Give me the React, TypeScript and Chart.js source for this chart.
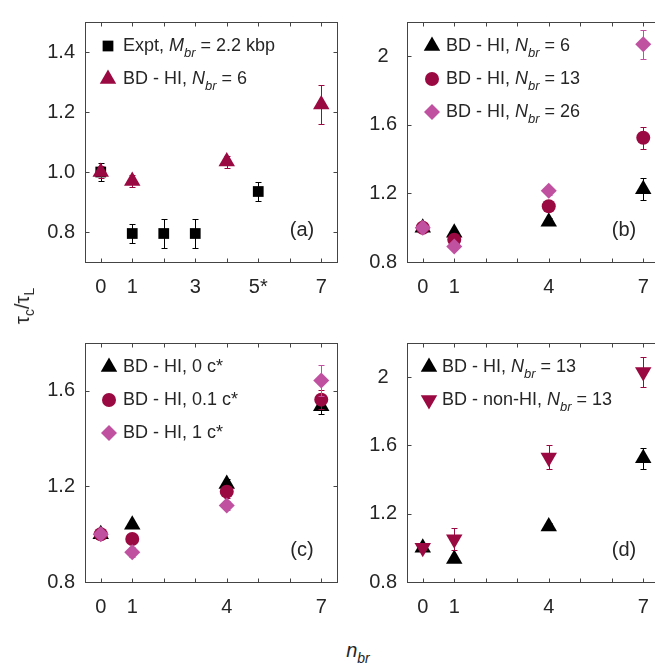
import React, { useEffect, useRef } from 'react';
import { Chart, registerables } from 'chart.js';
import { drawPoint } from 'chart.js/helpers';

Chart.register(...registerables);

const FONT = "'Liberation Sans', Arial, Helvetica, sans-serif";
const TEXT = '#262626';
const AXIS = '#444444';
const BLACK = '#000000';
const MAROON = '#9a0941';
const PINK = '#c051a0';

// ---------- data ----------
const X_EXPT = [0, 1, 2, 3, 5];
const X_SIM = [0, 1, 4, 7];

// panel (a)
const A_EXPT = [1.0, 0.795, 0.795, 0.795, 0.935];
const A_EXPT_ERR = [0.03, 0.03, 0.047, 0.047, 0.032];
const A_HI6 = [1.0, 0.97, 1.035, 1.225];
const A_HI6_ERR = [0.02, 0.02, 0.02, 0.066];

// panel (b)
const B_HI6 = [1.0, 0.97, 1.035, 1.225];
const B_HI6_ERR = [0.01, 0.015, 0.02, 0.066];
const B_HI13 = [1.0, 0.93, 1.125, 1.525];
const B_HI13_ERR = [0.01, 0.015, 0.02, 0.065];
const B_HI26 = [1.0, 0.89, 1.215, 2.07];
const B_HI26_ERR = [0.01, 0.02, 0.025, 0.086];

// panel (c)
const C_0 = [1.0, 1.04, 1.21, 1.535];
const C_0_ERR = [0.01, 0.01, 0.02, 0.03];
const C_01 = [1.0, 0.98, 1.178, 1.563];
const C_01_ERR = [0.01, 0.02, 0.025, 0.04];
const C_1 = [1.0, 0.925, 1.12, 1.643];
const C_1_ERR = [0.01, 0.02, 0.02, 0.066];

// panel (d)
const D_HI13 = [1.0, 0.935, 1.125, 1.525];
const D_HI13_ERR = [0.01, 0.02, 0.02, 0.062];
const D_NOHI13 = [1.0, 1.05, 1.53, 2.03];
const D_NOHI13_ERR = [0.01, 0.065, 0.07, 0.09];

// ticks
const X_TICKS = [0, 1, 2, 3, 4, 5, 6, 7];
const X_LABELS_A = ['0', '1', '', '3', '', '5*', '', '7'];
const X_LABELS = ['0', '1', '', '', '4', '', '', '7'];
const Y_TICKS_A = [0.8, 1.0, 1.2, 1.4];
const Y_LABELS_A = ['0.8', '1.0', '1.2', '1.4'];
const Y_TICKS_BD = [0.8, 1.2, 1.6, 2.0];
const Y_LABELS_BD = ['0.8', '1.2', '1.6', '2'];
const Y_TICKS_C = [0.8, 1.2, 1.6];
const Y_LABELS_C = ['0.8', '1.2', '1.6'];

// ---------- layout ----------
const PAD_L = 60;
const PAD_R = 10;
const PAD_T = 10;
const PAD_B = 45;

type Part = { t: string; it?: boolean; sub?: boolean };
type Series = {
  label: Part[];
  x: number[];
  y: number[];
  err: number[];
  style: string;
  rot?: number;
  color: string;
  radius: number;
};

const R_TRI = 9.5;
const R_SQ = 7.6;
const R_CIR = 7;
const R_DIA = 8;

const errPlugin = {
  id: 'errbars',
  beforeDatasetDraw(chart: any, args: any) {
    const ds = chart.data.datasets[args.index];
    const errs: number[] = ds.errs;
    if (!errs) return;
    const ys = chart.scales.y;
    const ctx = chart.ctx;
    ctx.save();
    ctx.strokeStyle = ds.borderColor;
    ctx.lineWidth = 1;
    args.meta.data.forEach((pt: any, j: number) => {
      const raw = ds.data[j];
      const e = errs[j];
      const x = Math.round(pt.x) + 0.5;
      const y1 = Math.round(ys.getPixelForValue(raw.y - e)) + 0.5;
      const y2 = Math.round(ys.getPixelForValue(raw.y + e)) + 0.5;
      ctx.beginPath();
      ctx.moveTo(x, y1);
      ctx.lineTo(x, y2);
      ctx.moveTo(x - 3, y1);
      ctx.lineTo(x + 3, y1);
      ctx.moveTo(x - 3, y2);
      ctx.lineTo(x + 3, y2);
      ctx.stroke();
    });
    ctx.restore();
  },
};

const framePlugin = {
  id: 'frame',
  afterDraw(chart: any) {
    const { ctx, chartArea: a, scales } = chart;
    const l = Math.round(a.left) + 0.5;
    const r = Math.round(a.right) + 0.5;
    const t = Math.round(a.top) + 0.5;
    const b = Math.round(a.bottom) + 0.5;
    ctx.save();
    ctx.strokeStyle = AXIS;
    ctx.lineWidth = 1;
    ctx.strokeRect(l, t, r - l, b - t);
    ctx.beginPath();
    scales.x.ticks.forEach((tk: any) => {
      const px = Math.round(scales.x.getPixelForValue(tk.value)) + 0.5;
      ctx.moveTo(px, b);
      ctx.lineTo(px, b - 4);
      ctx.moveTo(px, t);
      ctx.lineTo(px, t + 4);
    });
    scales.y.ticks.forEach((tk: any) => {
      const py = Math.round(scales.y.getPixelForValue(tk.value)) + 0.5;
      ctx.moveTo(l, py);
      ctx.lineTo(l + 4, py);
      ctx.moveTo(r, py);
      ctx.lineTo(r - 4, py);
    });
    ctx.stroke();
    ctx.restore();
  },
};

const legendPlugin = {
  id: 'legendx',
  afterDraw(chart: any, _args: any, opts: any) {
    const { ctx, chartArea: a } = chart;
    const series: Series[] = opts.series;
    if (!series) return;
    series.forEach((s, i) => {
      const cy = a.top + opts.y0 + i * opts.dy;
      ctx.save();
      ctx.fillStyle = s.color;
      ctx.strokeStyle = s.color;
      drawPoint(
        ctx,
        { pointStyle: s.style, rotation: s.rot || 0, radius: s.radius, borderWidth: 0 } as any,
        a.left + opts.mx,
        cy
      );
      ctx.restore();
      ctx.save();
      ctx.fillStyle = TEXT;
      ctx.textBaseline = 'middle';
      ctx.textAlign = 'left';
      let x = a.left + opts.tx;
      for (const p of s.label) {
        const size = p.sub ? 13 : 18;
        ctx.font = `${p.it ? 'italic ' : ''}${size}px ${FONT}`;
        ctx.fillText(p.t, x, cy + (p.sub ? 7 : 0));
        x += ctx.measureText(p.t).width;
      }
      ctx.restore();
    });
    if (opts.tag) {
      ctx.save();
      ctx.fillStyle = TEXT;
      ctx.font = `20px ${FONT}`;
      ctx.textAlign = 'center';
      ctx.textBaseline = 'middle';
      ctx.fillText(opts.tag, a.right - 35, a.bottom - 32);
      ctx.restore();
    }
  },
};

type PanelProps = {
  left: number;
  top: number;
  w: number;
  h: number;
  series: Series[];
  yMin: number;
  yMax: number;
  yTicks: number[];
  yLabels: string[];
  xLabels: string[];
  mx: number;
  tx: number;
  tag: string;
};

function Panel(p: PanelProps) {
  const ref = useRef<HTMLCanvasElement>(null);
  useEffect(() => {
    const chart = new Chart(ref.current as HTMLCanvasElement, {
      type: 'scatter',
      data: {
        datasets: p.series.map((s, i) => ({
          label: s.label.map((q) => q.t).join(''),
          data: s.x.map((x, j) => ({ x, y: s.y[j] })),
          pointStyle: s.style as any,
          pointRadius: s.radius,
          pointHoverRadius: s.radius,
          pointRotation: s.rot || 0,
          backgroundColor: s.color,
          borderColor: s.color,
          borderWidth: 0,
          order: -i,
          errs: s.err,
        })) as any,
      },
      plugins: [errPlugin, framePlugin, legendPlugin],
      options: {
        responsive: false,
        animation: false,
        events: [],
        layout: { padding: { left: 0, right: PAD_R, top: PAD_T, bottom: 0 }, autoPadding: false },
        plugins: {
          legend: { display: false },
          tooltip: { enabled: false },
          legendx: { series: p.series, mx: p.mx, tx: p.tx, y0: 24, dy: 33, tag: p.tag },
        } as any,
        scales: {
          x: {
            type: 'linear',
            min: -0.5,
            max: 7.5,
            afterBuildTicks: (s: any) => {
              s.ticks = X_TICKS.map((v) => ({ value: v }));
            },
            afterFit: (s: any) => {
              s.height = PAD_B;
            },
            grid: { display: false, drawTicks: false },
            border: { display: false },
            ticks: {
              autoSkip: false,
              maxRotation: 0,
              padding: 13,
              color: TEXT,
              font: { family: FONT, size: 20 },
              callback: (v: any) => {
                const k = X_TICKS.indexOf(Number(v));
                return k >= 0 ? p.xLabels[k] : '';
              },
            },
          },
          y: {
            type: 'linear',
            min: p.yMin,
            max: p.yMax,
            afterBuildTicks: (s: any) => {
              s.ticks = p.yTicks.map((v) => ({ value: v }));
            },
            afterFit: (s: any) => {
              s.width = PAD_L;
            },
            grid: { display: false, drawTicks: false },
            border: { display: false },
            ticks: {
              autoSkip: false,
              padding: 10,
              crossAlign: 'center',
              color: TEXT,
              font: { family: FONT, size: 20 },
              callback: (v: any) => {
                const k = p.yTicks.indexOf(Number(v));
                return k >= 0 ? p.yLabels[k] : '';
              },
            },
          },
        },
      } as any,
    });
    return () => chart.destroy();
  }, []);
  return (
    <canvas
      ref={ref}
      width={PAD_L + p.w + PAD_R}
      height={PAD_T + p.h + PAD_B}
      style={{ position: 'absolute', left: p.left - PAD_L, top: p.top - PAD_T, display: 'block' }}
    />
  );
}

const SERIES_A: Series[] = [
  {
    label: [{ t: 'Expt, ' }, { t: 'M', it: true }, { t: 'br', it: true, sub: true }, { t: ' = 2.2 kbp' }],
    x: X_EXPT, y: A_EXPT, err: A_EXPT_ERR, style: 'rect', color: BLACK, radius: R_SQ,
  },
  {
    label: [{ t: 'BD - HI, ' }, { t: 'N', it: true }, { t: 'br', it: true, sub: true }, { t: ' = 6' }],
    x: X_SIM, y: A_HI6, err: A_HI6_ERR, style: 'triangle', color: MAROON, radius: R_TRI,
  },
];

const SERIES_B: Series[] = [
  {
    label: [{ t: 'BD - HI, ' }, { t: 'N', it: true }, { t: 'br', it: true, sub: true }, { t: ' = 6' }],
    x: X_SIM, y: B_HI6, err: B_HI6_ERR, style: 'triangle', color: BLACK, radius: R_TRI,
  },
  {
    label: [{ t: 'BD - HI, ' }, { t: 'N', it: true }, { t: 'br', it: true, sub: true }, { t: ' = 13' }],
    x: X_SIM, y: B_HI13, err: B_HI13_ERR, style: 'circle', color: MAROON, radius: R_CIR,
  },
  {
    label: [{ t: 'BD - HI, ' }, { t: 'N', it: true }, { t: 'br', it: true, sub: true }, { t: ' = 26' }],
    x: X_SIM, y: B_HI26, err: B_HI26_ERR, style: 'rectRot', color: PINK, radius: R_DIA,
  },
];

const SERIES_C: Series[] = [
  { label: [{ t: 'BD - HI, 0 c*' }], x: X_SIM, y: C_0, err: C_0_ERR, style: 'triangle', color: BLACK, radius: R_TRI },
  { label: [{ t: 'BD - HI, 0.1 c*' }], x: X_SIM, y: C_01, err: C_01_ERR, style: 'circle', color: MAROON, radius: R_CIR },
  { label: [{ t: 'BD - HI, 1 c*' }], x: X_SIM, y: C_1, err: C_1_ERR, style: 'rectRot', color: PINK, radius: R_DIA },
];

const SERIES_D: Series[] = [
  {
    label: [{ t: 'BD - HI, ' }, { t: 'N', it: true }, { t: 'br', it: true, sub: true }, { t: ' = 13' }],
    x: X_SIM, y: D_HI13, err: D_HI13_ERR, style: 'triangle', color: BLACK, radius: R_TRI,
  },
  {
    label: [{ t: 'BD - non-HI, ' }, { t: 'N', it: true }, { t: 'br', it: true, sub: true }, { t: ' = 13' }],
    x: X_SIM, y: D_NOHI13, err: D_NOHI13_ERR, style: 'triangle', rot: 180, color: MAROON, radius: R_TRI,
  },
];

export default function App() {
  return (
    <div
      style={{
        position: 'fixed',
        left: 0,
        top: 0,
        width: 655,
        height: 667,
        overflow: 'hidden',
        background: '#ffffff',
        fontFamily: FONT,
        color: TEXT,
      }}
    >
      <Panel left={85} top={10} w={252} h={252} series={SERIES_A} yMin={0.7} yMax={1.5}
        yTicks={Y_TICKS_A} yLabels={Y_LABELS_A} xLabels={X_LABELS_A} mx={23} tx={38} tag="(a)" />
      <Panel left={407} top={10} w={252} h={252} series={SERIES_B} yMin={0.8} yMax={2.2}
        yTicks={Y_TICKS_BD} yLabels={Y_LABELS_BD} xLabels={X_LABELS} mx={25} tx={39} tag="(b)" />
      <Panel left={85} top={331} w={252} h={251} series={SERIES_C} yMin={0.8} yMax={1.8}
        yTicks={Y_TICKS_C} yLabels={Y_LABELS_C} xLabels={X_LABELS} mx={24} tx={38} tag="(c)" />
      <Panel left={407} top={331} w={252} h={251} series={SERIES_D} yMin={0.8} yMax={2.2}
        yTicks={Y_TICKS_BD} yLabels={Y_LABELS_BD} xLabels={X_LABELS} mx={22} tx={35} tag="(d)" />
      <div
        style={{
          position: 'absolute',
          left: 22,
          top: 306,
          transform: 'translate(-50%, -50%) rotate(-90deg)',
          fontSize: 20,
          whiteSpace: 'nowrap',
          lineHeight: 1,
        }}
      >
        <span>τ</span>
        <span style={{ fontSize: 14, position: 'relative', top: 5 }}>c</span>
        <span>/τ</span>
        <span style={{ fontSize: 14, position: 'relative', top: 5 }}>L</span>
      </div>
      <div
        style={{
          position: 'absolute',
          left: 358,
          top: 650,
          transform: 'translate(-50%, -50%)',
          fontSize: 20,
          whiteSpace: 'nowrap',
          lineHeight: 1,
        }}
      >
        <span style={{ fontStyle: 'italic' }}>n</span>
        <span style={{ fontStyle: 'italic', fontSize: 14, position: 'relative', top: 6 }}>br</span>
      </div>
    </div>
  );
}
